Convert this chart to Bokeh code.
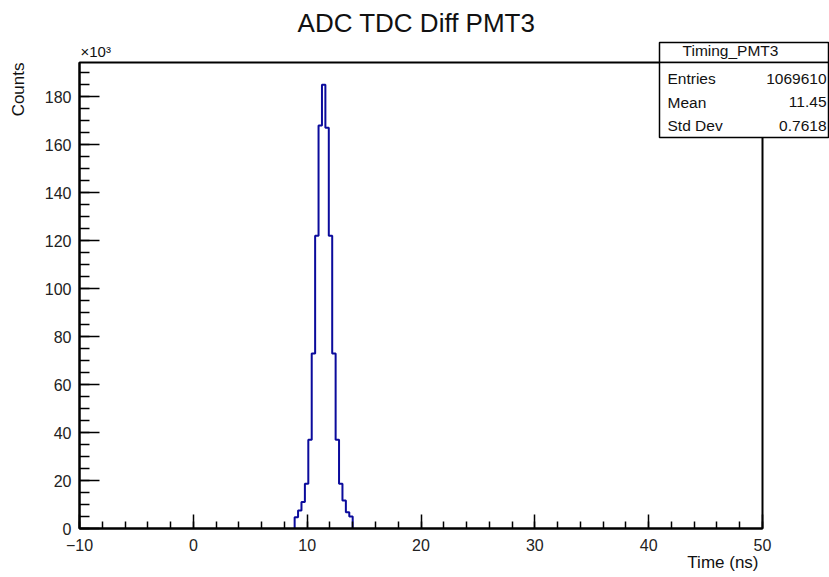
import numpy as np
from bokeh.plotting import figure
from bokeh.models import (Range1d, SingleIntervalTicker, CustomJSTickFormatter,
                          Label, BoxAnnotation, LinearAxis)
from bokeh.embed import file_html
from bokeh.resources import INLINE

# ---- data ----
bin_width = 0.3
first_edge = 8.9
counts = [4700, 7500, 11000, 18700, 37000, 73000, 122000, 168000, 185000,
          167000, 122000, 73000, 37000, 18700, 11700, 6800, 5000]
x_lo, x_hi = -10, 50
title_text = "ADC TDC Diff PMT3"
x_title = "Time (ns)"
y_title = "Counts"
stats_name = "Timing_PMT3"
stats_labels = ["Entries", "Mean", "Std Dev"]
stats_values = ["1069610", "11.45", "0.7618"]

W, H = 829, 577
FONT = "Liberation Sans"
# frame box in canvas pixels (ROOT-like pad)
FL, FR, FT, FB = 79, 762, 62, 528

y_lo, y_hi = 0, 1.05 * max(counts)
xpp = (x_hi - x_lo) / (FR - FL)
ypp = (y_hi - y_lo) / (FB - FT)

edges = first_edge + bin_width * np.arange(len(counts) + 1)
xs = np.repeat(edges, 2)
ys = np.concatenate([[0], np.repeat(counts, 2), [0]])

p = figure(width=W, height=H, output_backend="svg", toolbar_location=None,
           x_range=Range1d(x_lo - FL * xpp, x_hi + (W - FR) * xpp),
           y_range=Range1d(y_lo - (H - FB) * ypp, y_hi + FT * ypp),
           x_axis_type=None, y_axis_type=None,
           min_border=0, min_border_left=0, min_border_right=0,
           min_border_top=0, min_border_bottom=0)
p.title.visible = False
p.grid.visible = False
p.outline_line_color = None
p.background_fill_color = "white"
p.border_fill_color = "white"

# ROOT frame
p.add_layout(BoxAnnotation(left=x_lo, right=x_hi, bottom=y_lo, top=y_hi,
                           fill_alpha=0, line_color="black", line_alpha=1.0,
                           line_width=2))

p.line(xs, ys, line_color="#0b0b9c", line_width=2)

xa = LinearAxis(fixed_location=y_lo, bounds=(x_lo, x_hi),
                ticker=SingleIntervalTicker(interval=10, num_minor_ticks=5))
xa.major_tick_in = 14
xa.major_tick_out = 0
xa.minor_tick_in = 7
xa.minor_tick_out = 0
xa.major_label_standoff = 10
ya = LinearAxis(fixed_location=x_lo, bounds=(y_lo, y_hi),
                ticker=SingleIntervalTicker(interval=20000, num_minor_ticks=4),
                formatter=CustomJSTickFormatter(code="return (tick/1000).toFixed(0);"))
ya.major_tick_in = 20
ya.major_tick_out = 0
ya.minor_tick_in = 10
ya.minor_tick_out = 0
ya.major_label_standoff = 8
for ax in (xa, ya):
    ax.axis_line_width = 2
    ax.axis_line_color = "black"
    ax.major_tick_line_color = "black"
    ax.minor_tick_line_color = "black"
    ax.major_tick_line_width = 1.5
    ax.minor_tick_line_width = 1.5
    ax.major_label_text_font = FONT
    ax.major_label_text_font_size = "16px"
    ax.major_label_text_color = "#222222"
p.add_layout(xa, "below")
p.add_layout(ya, "left")

BASE_SHIFT = 0.44  # observed offset of the alphabetic baseline, in em


def lab(text, x, y, size, align="left", angle=0):
    if angle:
        x = x - BASE_SHIFT * size
    else:
        y = y - BASE_SHIFT * size
    p.add_layout(Label(x=x, y=y, x_units="canvas", y_units="canvas",
                       text=text, text_font=FONT, text_font_size=f"{size}px",
                       text_align=align, text_baseline="alphabetic", angle=angle,
                       text_color="#111111"))


# stats box
for top, bottom in ((42, 62), (62, 137)):
    p.add_layout(BoxAnnotation(left=659, right=W - 1, top=top, bottom=bottom,
                               left_units="canvas", right_units="canvas",
                               top_units="canvas", bottom_units="canvas",
                               fill_color="white", fill_alpha=1.0,
                               line_color="black", line_alpha=1.0,
                               line_width=1.5))

lab(title_text, 416, 34, 26, align="center")
lab(x_title, 758, 569, 17, align="right")
lab(y_title, 25, 62, 17, align="right", angle=np.pi / 2)
lab("\u00d710\u00b3", 80, 58, 15)
lab(stats_name, 730, 57, 15.5, align="center")
for i, (l, v) in enumerate(zip(stats_labels, stats_values)):
    yb = 85 + i * 23.5
    lab(l, 667, yb, 15.5)
    lab(v, 826, yb, 15.5, align="right")

open("out.html", "w").write(file_html(p, INLINE))
